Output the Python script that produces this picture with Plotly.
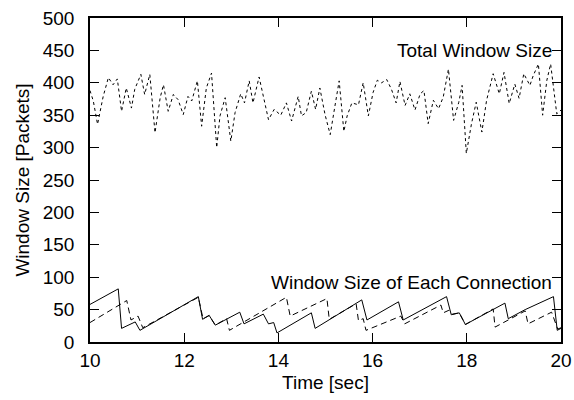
import plotly.graph_objects as go

# Total window size (sum of all connections)
total_t = [10.00, 10.07, 10.16, 10.28, 10.39, 10.49, 10.58, 10.67, 10.77, 10.88, 10.95,
           11.08, 11.16, 11.27, 11.38, 11.49, 11.56, 11.66, 11.77, 11.87, 11.98,
           12.08, 12.16, 12.28, 12.37, 12.47, 12.58, 12.69, 12.76, 12.87, 12.99,
           13.08, 13.20, 13.28, 13.38, 13.46, 13.59, 13.67, 13.79, 13.91,
           14.05, 14.17, 14.28, 14.42, 14.49, 14.59, 14.70, 14.79, 14.88, 14.99,
           15.10, 15.20, 15.29, 15.39, 15.46, 15.56, 15.70, 15.80, 15.91,
           16.01, 16.10, 16.19, 16.30, 16.40, 16.50, 16.58, 16.69, 16.79, 16.90,
           17.01, 17.09, 17.18, 17.29, 17.40, 17.50, 17.61, 17.72, 17.83, 17.90, 17.99,
           18.10, 18.20, 18.32, 18.42, 18.56, 18.69, 18.79, 18.90,
           19.02, 19.11, 19.21, 19.34, 19.41, 19.52, 19.61, 19.70, 19.78, 19.91, 20.00]
total_v = [388, 372, 336, 379, 408, 397, 406, 356, 392, 361, 390,
           413, 382, 413, 323, 377, 397, 356, 382, 374, 351,
           379, 372, 403, 333, 392, 415, 300, 349, 377, 310,
           354, 383, 369, 403, 369, 409, 382, 343, 359,
           350, 369, 341, 379, 349, 354, 387, 359, 392, 351,
           320, 364, 403, 325, 349, 369, 366, 400, 349,
           385, 404, 400, 405, 390, 369, 402, 365, 383, 358,
           383, 388, 337, 373, 360, 378, 421, 342, 370, 396, 291,
           337, 370, 324, 373, 414, 383, 416, 368,
           398, 376, 414, 396, 411, 429, 350, 404, 429, 352, 358]

# Connection 1 (solid)
conn1_t = [10.00, 10.60, 10.67, 10.96, 11.06, 12.30, 12.39, 12.53, 12.66, 13.18, 13.27,
           13.68, 13.79, 13.90, 13.97, 14.70, 14.78, 15.77, 15.88, 16.55, 16.65,
           17.57, 17.67, 17.84, 17.97, 18.81, 18.88, 19.24, 19.84, 19.92, 20.00]
conn1_v = [58, 82, 21, 31, 18, 70, 35, 41, 26, 46, 28,
           43, 28, 30, 14, 45, 21, 65, 34, 62, 34,
           70, 42, 45, 27, 60, 36, 50, 70, 18, 21]

# Connection 2 (dashed)
conn2_t = [10.00, 10.78, 10.87, 11.02, 11.12, 12.30, 12.40, 12.53, 12.66, 12.90, 12.96,
           14.17, 14.25, 15.03, 15.08, 15.65, 15.70, 15.80, 15.86, 16.60, 16.68,
           17.45, 17.50, 17.62, 17.70, 17.84, 17.97, 18.56, 18.60, 18.92, 19.24,
           19.30, 19.80, 19.93, 20.00]
conn2_v = [30, 64, 34, 40, 22, 69, 36, 41, 26, 36, 18,
           69, 40, 67, 35, 59, 33, 36, 18, 40, 28,
           57, 45, 49, 43, 45, 27, 51, 23, 36, 48,
           28, 46, 20, 22]

x_ticks = [10, 12, 14, 16, 18, 20]
y_ticks = [0, 50, 100, 150, 200, 250, 300, 350, 400, 450, 500]

FONT = "Liberation Sans, Arial, Helvetica, sans-serif"
FS = 19

fig = go.Figure()
fig.add_trace(go.Scatter(x=total_t, y=total_v, mode="lines",
                         line=dict(color="black", width=1, dash="3px,3px"),
                         showlegend=False))
fig.add_trace(go.Scatter(x=conn1_t, y=conn1_v, mode="lines",
                         line=dict(color="black", width=1),
                         showlegend=False))
fig.add_trace(go.Scatter(x=conn2_t, y=conn2_v, mode="lines",
                         line=dict(color="black", width=1, dash="6px,4px"),
                         showlegend=False))

fig.add_annotation(x=19.85, y=450, text="Total Window Size", showarrow=False,
                   xanchor="right", yanchor="middle", font=dict(size=FS, color="black", family=FONT))
fig.add_annotation(x=19.85, y=92, text="Window Size of Each Connection", showarrow=False,
                   xanchor="right", yanchor="middle", font=dict(size=FS, color="black", family=FONT))

axis_common = dict(showgrid=False, zeroline=False, showline=True, linecolor="black",
                   linewidth=1.5, mirror="ticks", ticks="inside", ticklen=9,
                   tickcolor="black", tickwidth=1.2, automargin=False,
                   tickfont=dict(size=FS, color="black", family=FONT))

fig.update_xaxes(range=[10, 20], tickvals=x_ticks, ticktext=[str(v) for v in x_ticks],
                 title=dict(text="Time [sec]", font=dict(size=FS, color="black", family=FONT), standoff=6),
                 **axis_common)
fig.update_yaxes(range=[0, 500], tickvals=y_ticks, ticktext=[str(v) for v in y_ticks],
                 title=dict(text="Window Size [Packets]", font=dict(size=FS, color="black", family=FONT), standoff=8),
                 ticklabelstandoff=10,
                 **axis_common)

fig.update_layout(width=574, height=400, plot_bgcolor="white", paper_bgcolor="white",
                  margin=dict(l=90, r=13, t=18, b=58), font=dict(family=FONT, color="black"))

# remove the default 8px body margin so the figure sits at the page origin
fig.write_html("out.html", config={"displayModeBar": False},
               post_script="document.body.style.margin='0px';")
